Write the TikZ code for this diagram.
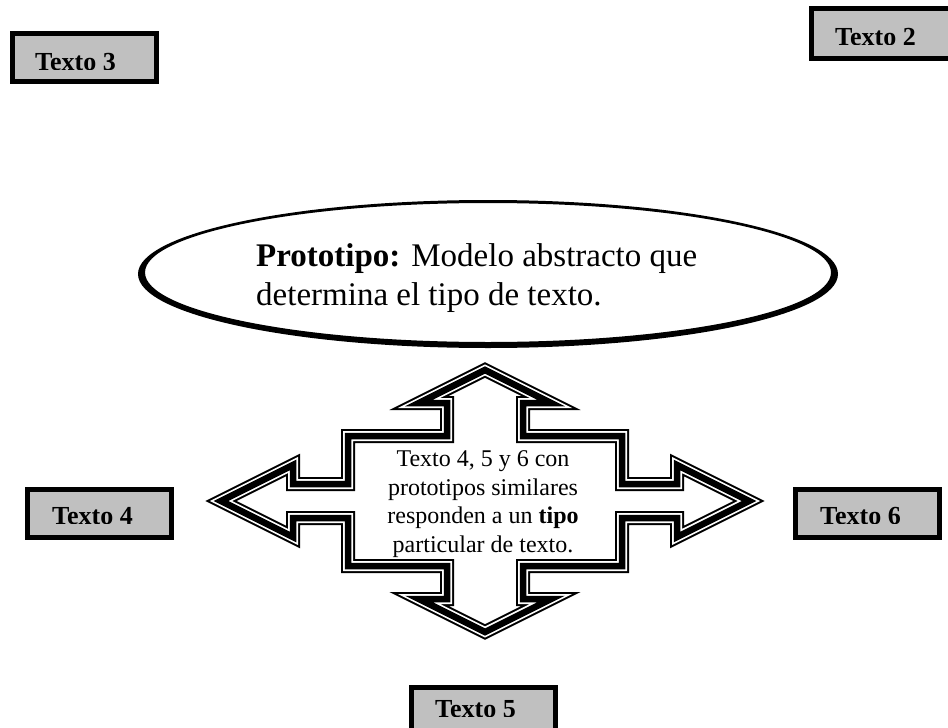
\documentclass[tikz,border=0pt]{standalone}
\usepackage{fontspec}
\setmainfont{Liberation Serif}
\usetikzlibrary{shapes.geometric,calc}
\definecolor{boxgray}{HTML}{C0C0C0}
% outline of the four-way arrow, relative to its centre
\def\quadarrowpath{(0,-131) -- (-66,-98) -- (-38,-98) -- (-38,-65) -- (-137,-65) -- (-137,-17) -- (-192,-17) -- (-192,-36) -- (-264,0) -- (-192,36) -- (-192,17) -- (-137,17) -- (-137,65) -- (-38,65) -- (-38,98) -- (-66,98) -- (0,131) -- (66,98) -- (38,98) -- (38,65) -- (137,65) -- (137,17) -- (192,17) -- (192,36) -- (264,0) -- (192,-36) -- (192,-17) -- (137,-17) -- (137,-65) -- (38,-65) -- (38,-98) -- (66,-98) -- cycle}
\begin{document}
\begin{tikzpicture}[x=1pt,y=-1pt,
  tbox/.style={draw=black,line width=5pt,fill=boxgray,anchor=north west,
    minimum width=144pt,minimum height=48pt,inner sep=0pt,outer sep=0pt},
  tlabel/.style={font=\fontsize{26}{26}\selectfont\bfseries,anchor=base west,inner sep=0pt},
  ptext/.style={font=\fontsize{33}{33}\selectfont,anchor=base west,inner sep=0pt},
  ctext/.style={font=\fontsize{24}{24}\selectfont,anchor=base,inner sep=0pt},
  arrowline/.style={line join=miter,miter limit=40},
]
\useasboundingbox (0,0) rectangle (948,728);

% labelled grey boxes; each label is clipped just above its baseline
\node[tbox] (b3) at (12.5,33.5) {};
\begin{scope}\clip (20,40) rectangle (150,69);
  \node[tlabel] (l3) at (35,70.5) {Texto 3};
\end{scope}

\node[tbox,minimum height=50pt] (b2) at (811.5,8.5) {};
\begin{scope}\clip (818,14) rectangle (948,44);
  \node[tlabel] (l2) at (835,45.5) {Texto 2};
\end{scope}

\node[tbox] (b4) at (27.5,489.5) {};
\begin{scope}\clip (33,495) rectangle (170,523);
  \node[tlabel] (l4) at (52,524.5) {Texto 4};
\end{scope}

\node[tbox] (b6) at (795.5,489.5) {};
\begin{scope}\clip (800,495) rectangle (938,523);
  \node[tlabel] (l6) at (820,524.5) {Texto 6};
\end{scope}

\node[tbox] (b5) at (411.5,687.5) {};
\begin{scope}\clip (418,693) rectangle (554,716);
  \node[tlabel] (l5) at (435,717.5) {Texto 5};
\end{scope}

% definition ellipse: a ring that is thin at the top and heavier below
\node[ellipse,minimum width=700pt,minimum height=148pt,inner sep=0pt] (proto) at (488,274) {};
\fill[black,even odd rule] (proto.center) ellipse [x radius=350,y radius=74]
  ($(proto.center)+(0,-1.5)$) ellipse [x radius=343,y radius=69.5];
\node[ptext] (p1) at (256,266) {\textbf{Prototipo:} Modelo abstracto que};
\node[ptext] (p2) at (256,305) {determina el tipo de texto.};

% four-way arrow drawn as a thin-thick-thin triple line
\begin{scope}[shift={(485,501)},arrowline]
  \coordinate (qa) at (0,0);
  \draw[black,line width=14pt] \quadarrowpath;
  \draw[white,line width=10pt] \quadarrowpath;
  \draw[black,line width=6.5pt] \quadarrowpath;
\end{scope}
\node[ctext] (c1) at (483,466) {Texto 4, 5 y 6 con};
\node[ctext] (c2) at (483,495) {prototipos similares};
\node[ctext] (c3) at (483,523.5) {responden a un \textbf{tipo}};
\node[ctext] (c4) at (483,552) {particular de texto.};
\end{tikzpicture}
\end{document}
